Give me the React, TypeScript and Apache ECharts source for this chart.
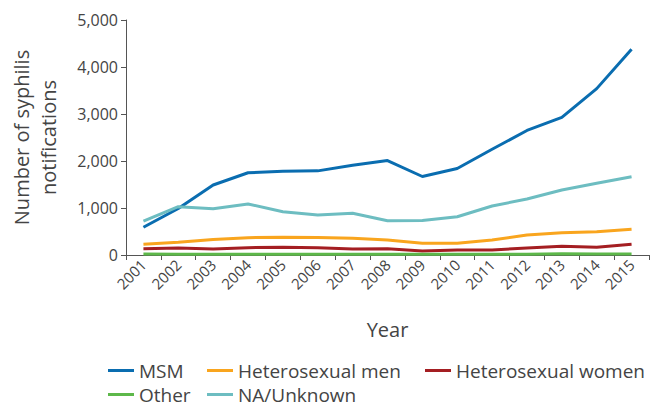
import React, { useEffect, useRef } from "react";
import * as echarts from "echarts";

const years = ["2001","2002","2003","2004","2005","2006","2007","2008","2009","2010","2011","2012","2013","2014","2015"];
const msm = [590, 990, 1490, 1750, 1780, 1790, 1910, 2010, 1670, 1840, 2250, 2650, 2930, 3540, 4380];
const hetMen = [227, 270, 330, 369, 380, 372, 355, 319, 250, 250, 319, 425, 475, 496, 546];
const hetWomen = [134, 149, 128, 156, 163, 156, 128, 134, 85, 106, 106, 149, 184, 163, 227];
const other = [20, 18, 15, 15, 15, 15, 15, 15, 15, 18, 15, 18, 25, 20, 20];
const naUnknown = [723, 1028, 985, 1085, 921, 851, 887, 730, 735, 815, 1043, 1191, 1383, 1525, 1666];

const seriesNames = ["MSM", "Heterosexual men", "Heterosexual women", "Other", "NA/Unknown"];
const seriesData = [msm, hetMen, hetWomen, other, naUnknown];
const colors = ["#0a6db0", "#f9a51e", "#a41e22", "#5db84a", "#6dbdc1"];

const FONT = "'Open Sans', 'Noto Sans', sans-serif";
const TEXT = "#444444";

export default function App() {
  const ref = useRef<HTMLDivElement>(null);
  useEffect(() => {
    document.body.style.margin = "0";
    document.body.style.overflow = "hidden";
    if (!ref.current) return;
    const chart = echarts.init(ref.current, undefined, { renderer: "svg" });
    const legendPos = [
      { left: 108, top: 361 },
      { left: 207, top: 361 },
      { left: 425, top: 361 },
      { left: 108, top: 385 },
      { left: 207, top: 385 },
    ];
    chart.setOption({
      animation: false,
      textStyle: { fontFamily: FONT },
      color: colors,
      grid: { left: 123, right: 3, top: 20, bottom: 152, containLabel: false },
      legend: seriesNames.map((n, i) => ({
        data: [n],
        left: legendPos[i].left,
        top: legendPos[i].top,
        icon: "rect",
        itemWidth: 26,
        itemHeight: 3,
        itemGap: 0,
        padding: 0,
        textStyle: { fontSize: 19, lineHeight: 19, color: TEXT, fontFamily: FONT, padding: [0, 0, 0, 0] },
      })),
      xAxis: {
        type: "category",
        data: years,
        boundaryGap: true,
        name: "Year",
        nameLocation: "middle",
        nameGap: 64,
        nameTextStyle: { fontSize: 20, color: TEXT, fontFamily: FONT },
        axisLine: { lineStyle: { color: "#555555", width: 1 } },
        axisTick: { show: true, length: 5, lineStyle: { color: "#555555" } },
        axisLabel: { rotate: 45, interval: 0, fontSize: 15, color: TEXT, margin: 7, fontFamily: FONT },
      },
      yAxis: {
        type: "value",
        min: 0,
        max: 5000,
        interval: 1000,
        name: "Number of syphilis\nnotifications",
        nameLocation: "middle",
        nameRotate: 90,
        nameGap: 64,
        nameTextStyle: { fontSize: 20, color: TEXT, lineHeight: 27, fontFamily: FONT },
        axisLine: { show: true, lineStyle: { color: "#555555", width: 1 } },
        axisTick: { show: true, length: 5, lineStyle: { color: "#555555" } },
        splitLine: { show: false },
        axisLabel: {
          fontSize: 16,
          color: TEXT,
          margin: 8,
          fontFamily: FONT,
          formatter: (v: number) => v.toLocaleString("en-US"),
        },
      },
      series: seriesNames.map((n, i) => ({
        name: n,
        type: "line",
        data: seriesData[i],
        showSymbol: false,
        symbol: "none",
        lineStyle: { width: 3, color: colors[i] },
        itemStyle: { color: colors[i] },
      })),
    });
    return () => chart.dispose();
  }, []);
  return <div ref={ref} style={{ width: 652, height: 407 }} />;
}
